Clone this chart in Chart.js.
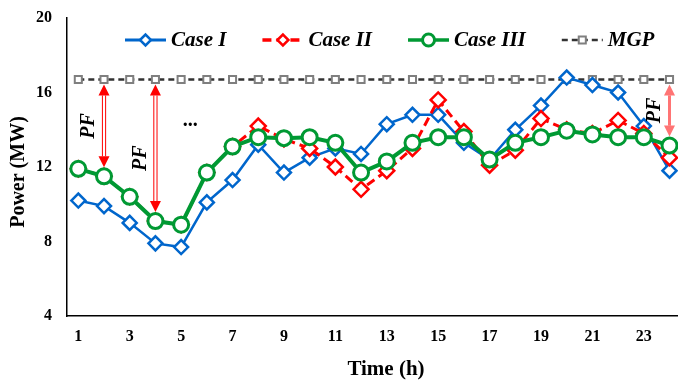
<!DOCTYPE html>
<html>
<head>
<meta charset="utf-8">
<script src="https://cdn.jsdelivr.net/npm/chart.js@4.4.1/dist/chart.umd.min.js"></script>
<style>
  html, body { margin: 0; padding: 0; background: #fff; overflow: hidden; }
  canvas { display: block; }
</style>
</head>
<body>
<canvas id="powerChart" width="678" height="385"></canvas>
<script>
// hourly power (MW)
const hours = [1, 2, 3, 4, 5, 6, 7, 8, 9, 10, 11, 12, 13, 14, 15, 16, 17, 18, 19, 20, 21, 22, 23, 24];
const xTicks = [1, 3, 5, 7, 9, 11, 13, 15, 17, 19, 21, 23];
const yTicks = [4, 8, 12, 16, 20];
const caseI = [10.2, 9.9, 9.0, 7.9, 7.7, 10.1, 11.3, 13.2, 11.7, 12.5, 13.0, 12.7, 14.3, 14.8, 14.8, 13.3, 12.4, 14.0, 15.3, 16.8, 16.4, 16.0, 14.2, 11.8];
const caseII = [11.9, 11.5, 10.4, 9.1, 8.9, 11.7, 13.1, 14.2, 13.5, 13.0, 12.0, 10.8, 11.8, 13.0, 15.6, 13.9, 12.1, 12.9, 14.6, 14.0, 13.8, 14.5, 13.8, 12.5];
const caseIII = [11.9, 11.5, 10.4, 9.1, 8.9, 11.7, 13.1, 13.6, 13.55, 13.6, 13.3, 11.7, 12.3, 13.3, 13.6, 13.6, 12.4, 13.3, 13.6, 13.95, 13.75, 13.6, 13.6, 13.15];
const mgp = [16.7, 16.7, 16.7, 16.7, 16.7, 16.7, 16.7, 16.7, 16.7, 16.7, 16.7, 16.7, 16.7, 16.7, 16.7, 16.7, 16.7, 16.7, 16.7, 16.7, 16.7, 16.7, 16.7, 16.7];
const pfHours = [2, 4, 24];

const serif = "'Liberation Serif', 'Times New Roman', serif";

function toXY(values) {
  return hours.map(function (h, i) { return { x: h, y: values[i] }; });
}

// double-headed red arrow
function drawArrow(ctx, x, yTop, yBot, color, hollow) {
  const head = 11, hw = 5.5;
  ctx.save();
  ctx.strokeStyle = color;
  ctx.fillStyle = color;
  if (hollow) {
    ctx.lineWidth = 1;
    [-1.6, 1.6].forEach(function (dx) {
      ctx.beginPath();
      ctx.moveTo(x + dx, yTop + head);
      ctx.lineTo(x + dx, yBot - head);
      ctx.stroke();
    });
  } else {
    ctx.lineWidth = 3;
    ctx.beginPath();
    ctx.moveTo(x, yTop + head);
    ctx.lineTo(x, yBot - head);
    ctx.stroke();
  }
  ctx.beginPath();
  ctx.moveTo(x, yTop);
  ctx.lineTo(x - hw, yTop + head);
  ctx.lineTo(x + hw, yTop + head);
  ctx.closePath();
  ctx.fill();
  ctx.beginPath();
  ctx.moveTo(x, yBot);
  ctx.lineTo(x - hw, yBot - head);
  ctx.lineTo(x + hw, yBot - head);
  ctx.closePath();
  ctx.fill();
  ctx.restore();
}

const extrasPlugin = {
  id: 'extras',
  afterDatasetsDraw: function (chart) {
    const ctx = chart.ctx;
    const xs = chart.scales.x, ys = chart.scales.y;

    // PF arrows between the MGP line and Case III
    pfHours.forEach(function (h, k) {
      const i = hours.indexOf(h);
      const x = xs.getPixelForValue(h);
      const yTop = ys.getPixelForValue(mgp[i]) + 5;
      const yBot = ys.getPixelForValue(caseIII[i]) - 9;
      const last = k === pfHours.length - 1;
      drawArrow(ctx, x, yTop, yBot, last ? 'rgba(255,70,70,0.75)' : '#ff0000', !last);

      ctx.save();
      ctx.translate(x - 15, (yTop + yBot) / 2 + (k === 1 ? 10 : 0));
      ctx.rotate(-Math.PI / 2);
      ctx.font = 'italic bold 20px ' + serif;
      ctx.fillStyle = '#000';
      ctx.textAlign = 'center';
      ctx.textBaseline = 'middle';
      ctx.fillText('PF', 0, 0);
      ctx.restore();
    });

    ctx.save();
    ctx.font = 'bold 20px ' + serif;
    ctx.fillStyle = '#000';
    ctx.textAlign = 'center';
    ctx.textBaseline = 'middle';
    ctx.fillText('...', xs.getPixelForValue(5.35), ys.getPixelForValue(14.5));
    ctx.restore();
  },
  afterDraw: function (chart) {
    const ctx = chart.ctx;

    // legend, inside the plot
    let x = 125;
    const y = 40;
    ctx.save();
    ctx.font = 'italic bold 21px ' + serif;
    ctx.textBaseline = 'middle';
    chart.data.datasets.forEach(function (ds) {
      const w = 41;
      ctx.strokeStyle = ds.borderColor;
      ctx.lineWidth = ds.legendLine;
      ctx.setLineDash(ds.borderDash || []);
      ctx.beginPath();
      ctx.moveTo(x, y);
      ctx.lineTo(x + w, y);
      ctx.stroke();
      ctx.setLineDash([]);
      ctx.fillStyle = '#fff';
      ctx.strokeStyle = ds.pointBorderColor;
      ctx.lineWidth = ds.pointBorderWidth;
      Chart.helpers.drawPoint(ctx, { pointStyle: ds.pointStyle, radius: ds.legendRadius, rotation: 0, borderWidth: ds.pointBorderWidth }, x + w / 2, y);
      ctx.fillStyle = '#000';
      ctx.textAlign = 'left';
      ctx.fillText(ds.label, x + w + 5, y + 1);
      x += w + 5 + ctx.measureText(ds.label).width + 36;
    });
    ctx.restore();

    // axis titles
    ctx.save();
    ctx.fillStyle = '#000';
    ctx.textAlign = 'center';
    ctx.textBaseline = 'middle';
    ctx.font = 'bold 21px ' + serif;
    ctx.fillText('Time (h)', 386, 370);
    ctx.translate(19, 172);
    ctx.rotate(-Math.PI / 2);
    ctx.font = 'bold 20px ' + serif;
    ctx.fillText('Power (MW)', 0, 0);
    ctx.restore();
  }
};

const ctx = document.getElementById('powerChart').getContext('2d');
const powerChart = new Chart(ctx, {
  type: 'line',
  data: {
    datasets: [{
      label: 'Case I',
      data: toXY(caseI),
      borderColor: '#0066cc',
      borderWidth: 2.5,
      pointStyle: 'rectRot',
      pointRadius: 7,
      pointBorderWidth: 2.5,
      pointBorderColor: '#0066cc',
      pointBackgroundColor: '#fff',
      legendLine: 3,
      legendRadius: 5.5,
      order: 2
    }, {
      label: 'Case II',
      data: toXY(caseII),
      borderColor: '#ff0000',
      borderWidth: 3,
      borderDash: [9, 5],
      pointStyle: 'rectRot',
      pointRadius: 7.5,
      pointBorderWidth: 2.5,
      pointBorderColor: '#ff0000',
      pointBackgroundColor: '#fff',
      legendLine: 3.5,
      legendRadius: 5.5,
      order: 1
    }, {
      label: 'Case III',
      data: toXY(caseIII),
      borderColor: '#009933',
      borderWidth: 4,
      pointStyle: 'circle',
      pointRadius: 7.5,
      pointBorderWidth: 3,
      pointBorderColor: '#009933',
      pointBackgroundColor: '#fff',
      legendLine: 3.5,
      legendRadius: 6,
      order: 0
    }, {
      label: 'MGP',
      data: toXY(mgp),
      borderColor: '#333333',
      borderWidth: 2.5,
      borderDash: [6, 4],
      pointStyle: 'rect',
      pointRadius: 5,
      pointBorderWidth: 2,
      pointBorderColor: '#7f7f7f',
      pointBackgroundColor: '#fff',
      legendLine: 2.5,
      legendRadius: 5,
      order: 3
    }]
  },
  options: {
    responsive: false,
    animation: false,
    devicePixelRatio: 1,
    layout: { autoPadding: false, padding: { top: 18, right: 0, left: 0, bottom: 0 } },
    elements: { line: { tension: 0 } },
    plugins: {
      legend: { display: false },
      tooltip: { enabled: false }
    },
    scales: {
      x: {
        type: 'linear',
        min: 0.56,
        max: 24.33,
        grid: { display: false, drawTicks: false },
        border: { display: true, color: '#000', width: 1.5 },
        ticks: { color: '#000', padding: 11, font: { family: serif, size: 16, weight: 'bold' } },
        afterBuildTicks: function (s) { s.ticks = xTicks.map(function (v) { return { value: v }; }); },
        afterFit: function (s) { s.height = 69; s.paddingLeft = 0; s.paddingRight = 0; }
      },
      y: {
        min: 4,
        max: 20,
        grid: { display: false, drawTicks: false },
        border: { display: true, color: '#000', width: 1.5 },
        ticks: { color: '#000', padding: 15, font: { family: serif, size: 16, weight: 'bold' } },
        afterBuildTicks: function (s) { s.ticks = yTicks.map(function (v) { return { value: v }; }); },
        afterFit: function (s) { s.width = 67; s.paddingTop = 0; s.paddingBottom = 0; }
      }
    }
  },
  plugins: [extrasPlugin]
});
</script>
</body>
</html>
